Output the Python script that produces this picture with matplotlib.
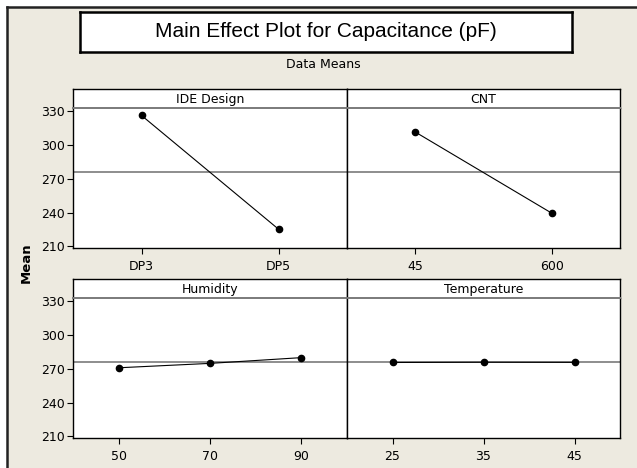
import matplotlib.pyplot as plt
from matplotlib.patches import Rectangle

factors = ['IDE Design', 'CNT', 'Humidity', 'Temperature']
levels = [['DP3', 'DP5'], ['45', '600'], ['50', '70', '90'], ['25', '35', '45']]
means = [[326.2, 225.3], [311.5, 239.5], [270.9, 274.8, 279.9], [275.6, 275.8, 275.7]]
grand_mean = 275.7
yticks = [210, 240, 270, 300, 330]

W, H = 637, 468
bg = '#EDEAE0'
fig = plt.figure(figsize=(W / 100, H / 100), dpi=100)
fig.patch.set_facecolor('white')

def box(x0, y0, x1, y1):
    # pixel box (top-left origin) -> figure fraction rect
    return [x0 / W, 1 - y1 / H, (x1 - x0) / W, (y1 - y0) / H]

# beige frame with dark border on top and left
fig.patches.append(Rectangle((7 / W, 0), 1, 1 - 7 / H, transform=fig.transFigure,
                             facecolor=bg, edgecolor='none', zorder=-5))
fig.add_artist(plt.Line2D([7 / W, 7 / W], [0, 1 - 7 / H], transform=fig.transFigure,
                          color='#222222', lw=1.8))
fig.add_artist(plt.Line2D([7 / W, 1], [1 - 7 / H, 1 - 7 / H], transform=fig.transFigure,
                          color='#222222', lw=1.8))

# title box
tax = fig.add_axes(box(80, 12, 572, 52))
tax.set_xticks([])
tax.set_yticks([])
for s in tax.spines.values():
    s.set_linewidth(1.8)
tax.text(0.5, 0.52, 'Main Effect Plot for Capacitance (pF)', ha='center', va='center',
         fontsize=15, family='Liberation Sans', transform=tax.transAxes)
fig.text(323 / W, 1 - 64 / H, 'Data Means', ha='center', va='center', fontsize=9)
fig.text(26 / W, 1 - 263 / H, 'Mean', ha='center', va='center', rotation=90,
         fontsize=9.5, fontweight='bold')

cols = [(73, 347), (347, 620)]
rows = [(89, 108, 248), (279, 298, 438)]

for i, name in enumerate(factors):
    r, c = divmod(i, 2)
    x0, x1 = cols[c]
    htop, ptop, pbot = rows[r]
    hax = fig.add_axes(box(x0, htop, x1, ptop))
    hax.set_xticks([])
    hax.set_yticks([])
    hax.spines['bottom'].set_visible(False)
    for s in ['top', 'left', 'right']:
        hax.spines[s].set_linewidth(1.0)
    hax.text(0.5, 0.45, name, ha='center', va='center', fontsize=9,
             transform=hax.transAxes)

    ax = fig.add_axes(box(x0, ptop, x1, pbot))
    n = len(levels[i])
    pos = list(range(n))
    ax.axhline(grand_mean, color='#7a7a7a', lw=1.2, zorder=1)
    ax.plot(pos, means[i], color='black', lw=0.8, marker='o', markersize=4.5, zorder=3)
    ax.set_xlim(-0.5, n - 0.5)
    ax.set_ylim(208.6, 332.8)
    ax.set_xticks(pos)
    ax.set_xticklabels(levels[i], fontsize=9)
    ax.spines['top'].set_color('#7a7a7a')
    ax.spines['top'].set_linewidth(1.4)
    for s in ['left', 'right', 'bottom']:
        ax.spines[s].set_linewidth(1.0)
    ax.tick_params(axis='x', direction='out', length=4, width=0.8, pad=5)
    if c == 0:
        ax.set_yticks(yticks)
        ax.set_yticklabels([str(v) for v in yticks], fontsize=9)
        ax.tick_params(axis='y', direction='out', length=4, width=0.8, pad=2)
    else:
        ax.set_yticks([])

fig.savefig('out.png', dpi=100, facecolor=fig.get_facecolor())
